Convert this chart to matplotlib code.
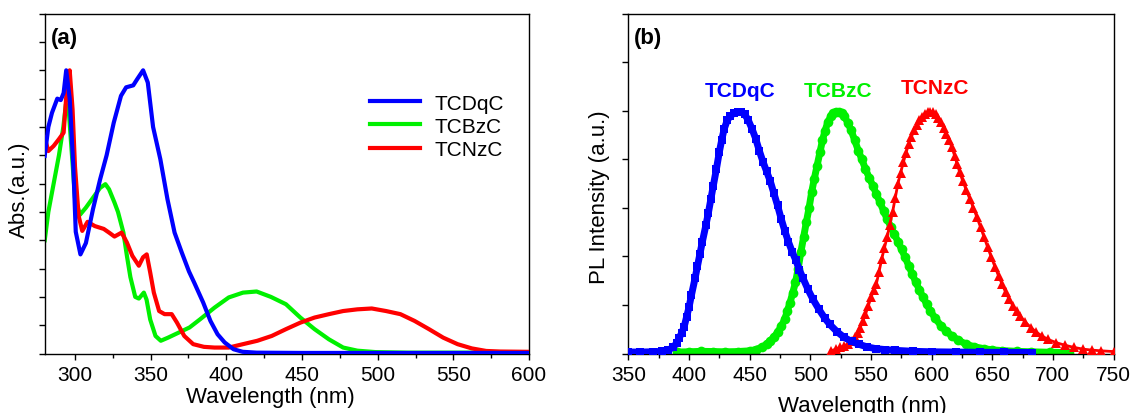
#吸收光谱(a)和PL光谱(b)的对比图
import matplotlib
matplotlib.use('Agg')
import matplotlib.pyplot as plt
from matplotlib.ticker import MultipleLocator, NullFormatter

plt.rcParams['font.family'] = ['Liberation Sans', 'DejaVu Sans']

names = ['TCDqC', 'TCBzC', 'TCNzC']
colors = ['#0000ff', '#00f000', '#ff0000']

# (a) 吸收光谱
abs_dq_x = [280, 282.4, 284.8, 288.3, 290.6, 292.5, 294.2, 296.5, 298.9, 300.5, 303.6, 307.2, 311.9,
            316.6, 320.9, 325.6, 330.4, 333.8, 338.5, 341.0, 345.0, 348.1, 351.6, 356.4, 361.1, 365.8,
            370.6, 375.3, 378.8, 384.7, 389.5, 394.2, 398.9, 404.8, 410.8, 420, 450, 500, 550, 600]
abs_dq_y = [0.698, 0.80, 0.85, 0.90, 0.895, 0.92, 1.0, 0.90, 0.66, 0.43, 0.35, 0.39, 0.51,
            0.615, 0.70, 0.815, 0.91, 0.94, 0.947, 0.968, 1.0, 0.957, 0.80, 0.686, 0.545, 0.427,
            0.356, 0.29, 0.25, 0.18, 0.115, 0.068, 0.039, 0.015, 0.006, 0.003, 0.002, 0.002, 0.002, 0.002]

abs_bz_x = [280, 282.4, 285.9, 289.4, 292.3, 294.0, 296.0, 298.0, 300.0, 303.3, 307.2, 311.9, 316.6,
            320.1, 322.5, 326.1, 328.4, 332.0, 334.3, 336.6, 339.8, 342.2, 345.5, 347.3, 349.7, 353.2,
            356.7, 361.5, 368.6, 375.7, 382.7, 392.2, 401.6, 411.0, 420.0, 429.4, 439.4, 448.9, 458.3,
            467.8, 477.2, 486.6, 498.5, 520, 560, 600]
abs_bz_y = [0.40, 0.50, 0.60, 0.70, 0.80, 0.88, 0.85, 0.70, 0.55, 0.49, 0.515, 0.55, 0.585,
            0.598, 0.58, 0.533, 0.50, 0.427, 0.345, 0.27, 0.20, 0.194, 0.215, 0.19, 0.12, 0.062,
            0.045, 0.056, 0.074, 0.092, 0.121, 0.162, 0.198, 0.215, 0.219, 0.20, 0.174, 0.127, 0.086,
            0.05, 0.021, 0.01, 0.005, 0.003, 0.003, 0.002]

abs_nz_x = [280, 282.4, 285.9, 289.4, 292.5, 294.9, 296.5, 298.4, 300.0, 302.4, 304.8, 308.3, 313.1,
            319.0, 322.5, 326.1, 330.8, 334.3, 337.9, 342.2, 345.0, 347.4, 349.7, 352.1, 355.6, 359.2,
            363.9, 367.4, 372.2, 378.1, 385.2, 392.2, 401.6, 411.0, 420.5, 430.0, 439.4, 448.9, 458.3,
            467.8, 477.2, 486.6, 496.1, 505.5, 515.0, 524.4, 533.9, 543.3, 552.8, 562.2, 571.7, 581.1, 600]
abs_nz_y = [0.762, 0.715, 0.733, 0.757, 0.78, 0.956, 1.0, 0.862, 0.66, 0.486, 0.433, 0.465, 0.45,
            0.44, 0.427, 0.413, 0.427, 0.392, 0.345, 0.31, 0.34, 0.35, 0.286, 0.215, 0.15, 0.139,
            0.139, 0.109, 0.062, 0.033, 0.0235, 0.021, 0.021, 0.033, 0.045, 0.062, 0.086, 0.109, 0.127,
            0.139, 0.15, 0.156, 0.159, 0.15, 0.139, 0.115, 0.086, 0.056, 0.033, 0.018, 0.009, 0.007, 0.006]

# (b) PL光谱
pl_dq_x = [350, 360, 370, 378, 383, 387, 390, 392, 394, 396, 398, 400, 402, 405, 407, 409, 411, 414,
           416, 418, 420, 422.6, 425, 427, 429, 431.5, 434, 437, 440, 443, 446, 449, 452, 455, 458,
           461, 464, 467, 470, 473, 476, 479, 482, 485, 488, 491, 494, 498, 502, 507, 512, 516, 522,
           528, 534, 540, 547, 554, 562, 570, 585, 600, 620, 640, 660, 683]
pl_dq_y = [0.006, 0.006, 0.007, 0.009, 0.015, 0.025, 0.045, 0.065, 0.085, 0.11, 0.15, 0.19, 0.24,
           0.31, 0.36, 0.41, 0.46, 0.53, 0.58, 0.635, 0.69, 0.76, 0.83, 0.88, 0.925, 0.96, 0.978, 0.99,
           0.995, 0.995, 0.985, 0.96, 0.925, 0.885, 0.835, 0.79, 0.75, 0.71, 0.66, 0.61, 0.555, 0.505,
           0.46, 0.42, 0.385, 0.345, 0.31, 0.265, 0.225, 0.183, 0.145, 0.12, 0.09, 0.066, 0.05, 0.038,
           0.027, 0.02, 0.016, 0.013, 0.009, 0.007, 0.006, 0.005, 0.005, 0.004]

pl_bz_x = [390, 400, 410, 420, 430, 440, 450, 455, 460, 464, 467, 470, 473, 476, 479, 481, 483.3,
           485.5, 487.8, 490, 492.2, 494.5, 496.7, 499, 501.1, 503.3, 505.6, 508, 510, 512, 514.4, 517,
           519, 521, 523.3, 526, 528, 531, 533.7, 536.5, 539.6, 542.5, 545.5, 548.5, 551.5, 554.5,
           557.4, 560.4, 563.3, 566.3, 569.3, 572.2, 575.2, 578.2, 581.1, 584, 587, 590, 593, 596,
           598.9, 603, 607.8, 612, 616.7, 622, 628.5, 635, 643, 650, 658, 670, 682, 698, 713]
pl_bz_y = [0.006, 0.007, 0.009, 0.008, 0.007, 0.008, 0.011, 0.016, 0.026, 0.038, 0.052, 0.068, 0.087,
           0.112, 0.142, 0.175, 0.21, 0.25, 0.293, 0.35, 0.417, 0.48, 0.54, 0.60, 0.664, 0.72, 0.774,
           0.83, 0.878, 0.915, 0.953, 0.978, 0.99, 0.996, 0.997, 0.99, 0.978, 0.95, 0.919, 0.88, 0.836,
           0.80, 0.76, 0.725, 0.692, 0.657, 0.623, 0.588, 0.554, 0.523, 0.492, 0.461, 0.43, 0.396,
           0.362, 0.328, 0.293, 0.262, 0.231, 0.203, 0.176, 0.145, 0.114, 0.092, 0.073, 0.055, 0.0385,
           0.028, 0.02, 0.015, 0.012, 0.009, 0.007, 0.005, 0.004]

pl_nz_x = [517.4, 521, 524.8, 528, 530.7, 534, 536.7, 539, 541.1, 543.3, 545.5, 547.8, 550, 552.2,
           554.4, 556.6, 558.9, 561.1, 563.3, 565.5, 567.8, 570, 572.2, 574.5, 576.7, 579, 581.1,
           583.3, 585.6, 587.8, 590, 592.2, 594.4, 596.7, 598.9, 601, 603.3, 605.5, 607.8, 610, 612.2,
           614.5, 616.7, 619, 621.1, 623.3, 625.6, 628.5, 631.5, 634.5, 637.4, 640.4, 643.3, 646.3,
           649.3, 652.2, 655.2, 658.2, 661.1, 664, 667, 670, 673, 677, 681.9, 686, 690.7, 696, 702.6,
           710, 717.4, 725, 732.2, 740, 750]
pl_nz_y = [0.011, 0.018, 0.025, 0.031, 0.038, 0.05, 0.066, 0.085, 0.107, 0.133, 0.162, 0.196, 0.231,
           0.26, 0.286, 0.335, 0.39, 0.435, 0.479, 0.53, 0.582, 0.64, 0.699, 0.745, 0.788, 0.828,
           0.864, 0.893, 0.919, 0.942, 0.96, 0.976, 0.988, 0.995, 0.997, 0.995, 0.988, 0.972, 0.953,
           0.93, 0.905, 0.878, 0.85, 0.815, 0.78, 0.746, 0.712, 0.675, 0.637, 0.6, 0.561, 0.52, 0.479,
           0.437, 0.396, 0.358, 0.32, 0.285, 0.252, 0.224, 0.197, 0.175, 0.155, 0.13, 0.107, 0.089,
           0.073, 0.058, 0.045, 0.034, 0.025, 0.018, 0.014, 0.011, 0.008]

fig = plt.figure(figsize=(11.35, 4.14), dpi=100)
ax1 = fig.add_axes([0.0394, 0.1437, 0.4267, 0.8208])
ax2 = fig.add_axes([0.5536, 0.1437, 0.4275, 0.8208])

def set_axis(ax):
    ax.tick_params(axis='both', which='both', direction='out', labelsize=15, pad=4)
    ax.tick_params(axis='both', which='major', length=4, width=1)
    ax.tick_params(axis='both', which='minor', length=3, width=1)
    ax.yaxis.set_major_formatter(NullFormatter())
    for sp in ax.spines.values():
        sp.set_linewidth(1.0)

# ax1 吸收
ax1.plot(abs_bz_x, abs_bz_y, color=colors[1], lw=3, label=names[1], zorder=2)
ax1.plot(abs_nz_x, abs_nz_y, color=colors[2], lw=3, label=names[2], zorder=3)
ax1.plot(abs_dq_x, abs_dq_y, color=colors[0], lw=3, label=names[0], zorder=4)
ax1.set_xlim(280, 600)
ax1.set_ylim(0, 1.2)
ax1.xaxis.set_major_locator(MultipleLocator(50))
ax1.xaxis.set_minor_locator(MultipleLocator(25))
ax1.yaxis.set_major_locator(MultipleLocator(0.1))
set_axis(ax1)
ax1.set_xlabel('Wavelength (nm)', fontsize=16)
ax1.xaxis.set_label_coords(0.465, -0.095)
ax1.set_ylabel('Abs.(a.u.)', fontsize=16)
ax1.yaxis.set_label_coords(-0.030, 0.484)
h, l = ax1.get_legend_handles_labels()
order = [2, 0, 1]
ax1.legend([h[i] for i in order], [l[i] for i in order], loc='upper left', bbox_to_anchor=(0.672, 0.765),
           frameon=False, fontsize=15, handlelength=2.4, handletextpad=0.7, labelspacing=0.2,
           borderpad=0, borderaxespad=0)
ax1.text(0.012, 0.915, '(a)', transform=ax1.transAxes, fontsize=16, fontweight='bold', va='baseline')

# ax2 PL
ax2.plot(pl_bz_x, pl_bz_y, color=colors[1], lw=5, marker='o', ms=7, mew=0, zorder=2)
ax2.plot(pl_nz_x, pl_nz_y, color=colors[2], lw=2, marker='^', ms=7, mew=0, zorder=3)
ax2.plot(pl_dq_x, pl_dq_y, color=colors[0], lw=5, marker='s', ms=6, mew=0, zorder=4)
ax2.set_xlim(350, 750)
ax2.set_ylim(0, 1.4)
ax2.xaxis.set_major_locator(MultipleLocator(50))
ax2.xaxis.set_minor_locator(MultipleLocator(25))
ax2.yaxis.set_major_locator(MultipleLocator(0.2))
set_axis(ax2)
ax2.set_xlabel('Wavelength (nm)', fontsize=16)
ax2.xaxis.set_label_coords(0.482, -0.122)
ax2.set_ylabel('PL Intensity (a.u.)', fontsize=16)
ax2.yaxis.set_label_coords(-0.038, 0.463)
ax2.text(442, 1.062, names[0], color=colors[0], fontsize=15, fontweight='bold', ha='center', va='baseline')
ax2.text(522.6, 1.062, names[1], color=colors[1], fontsize=15, fontweight='bold', ha='center', va='baseline')
ax2.text(602.6, 1.075, names[2], color=colors[2], fontsize=15, fontweight='bold', ha='center', va='baseline')
ax2.text(0.012, 0.915, '(b)', transform=ax2.transAxes, fontsize=16, fontweight='bold', va='baseline')

fig.savefig('out.png', dpi=100)
